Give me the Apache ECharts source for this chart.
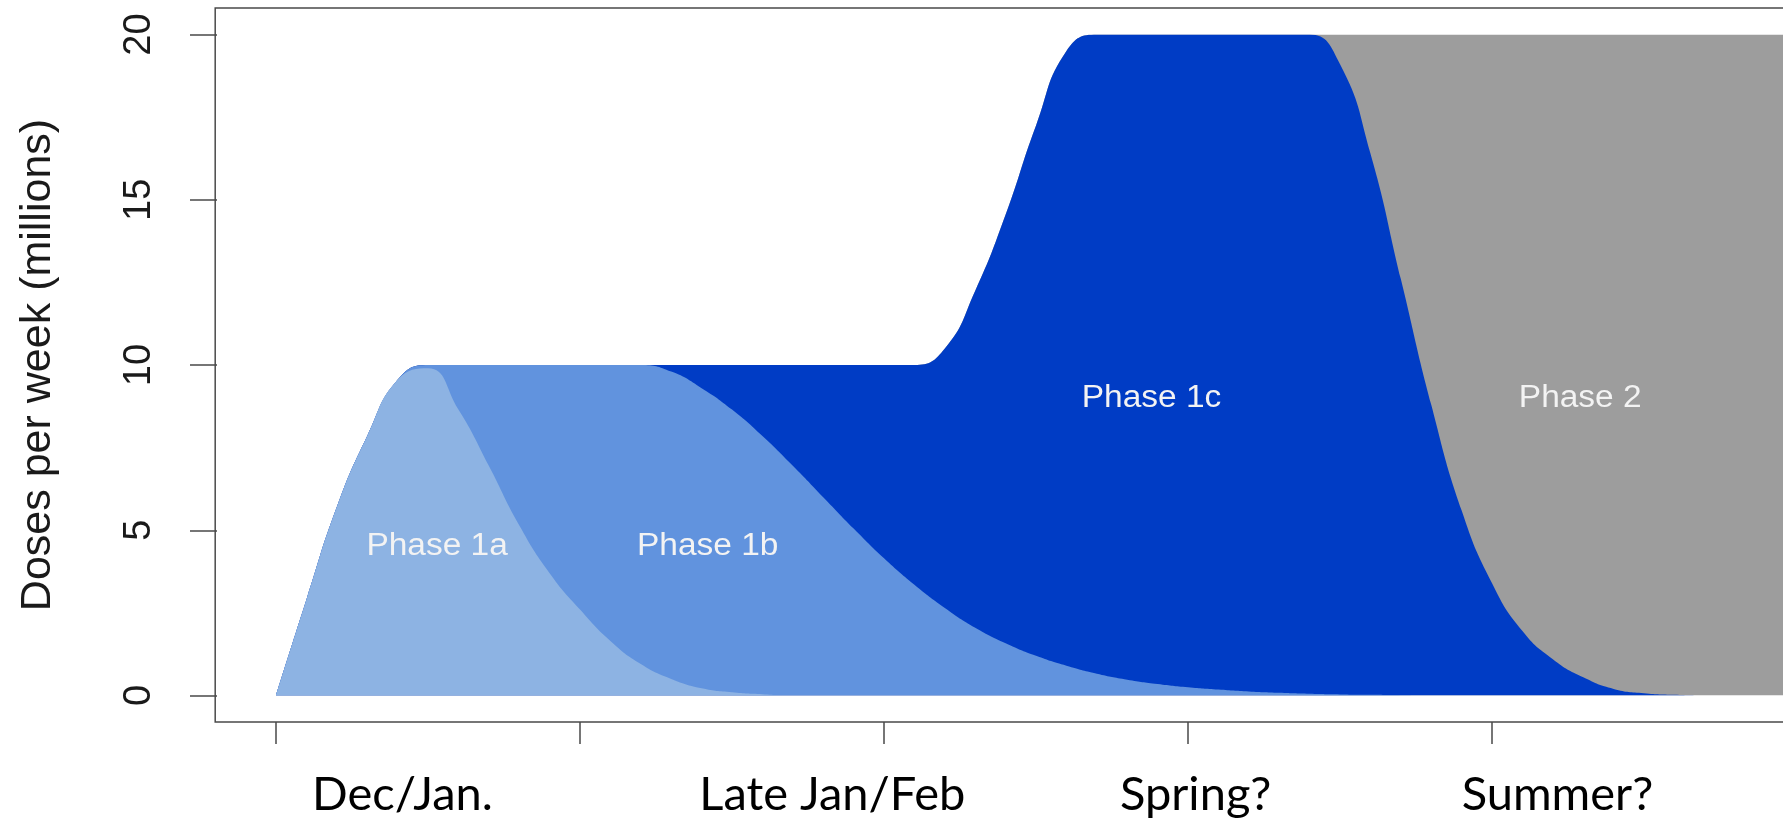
<!DOCTYPE html>
<html>
<head>
<meta charset="utf-8">
<title>Doses per week</title>
<script src="https://cdn.jsdelivr.net/npm/echarts@6/dist/echarts.min.js"></script>
<style>
  html, body { margin: 0; padding: 0; background: #fff; overflow: hidden; }
  #main { width: 1783px; height: 821px; }
</style>
</head>
<body>
<div id="main"></div>
<script>
// x = time index (ticks every 10), values = doses per week (millions) for each phase
const weeks = [0, 1, 2, 3, 4, 5, 6, 7, 8, 9, 10, 11, 12, 13, 14, 15, 16, 17, 18, 19, 20,
  21, 22, 23, 24, 25, 26, 27, 28, 29, 30, 31, 32, 33, 34, 35, 36, 37, 38, 39, 40,
  41, 42, 43, 44, 45, 46, 47, 48, 49, 50];

const phase1a = [0, 2.9, 5.7, 7.85, 9.55, 9.9, 8.65, 6.95, 5.15, 3.7, 2.6,
  1.65, 0.95, 0.5, 0.22, 0.1, 0.04, 0, 0, 0, 0,
  0, 0, 0, 0, 0, 0, 0, 0, 0, 0,
  0, 0, 0, 0, 0, 0, 0, 0, 0, 0,
  0, 0, 0, 0, 0, 0, 0, 0, 0, 0];

const phase1b = [0, 0, 0, 0, 0, 0.1, 1.35, 3.05, 4.85, 6.3, 7.4,
  8.35, 9.05, 9.3, 9.08, 8.55, 7.81, 6.95, 6.0, 5.05, 4.15,
  3.35, 2.65, 2.05, 1.58, 1.2, 0.9, 0.66, 0.48, 0.35, 0.25,
  0.18, 0.12, 0.08, 0.05, 0.03, 0.02, 0.01, 0, 0, 0,
  0, 0, 0, 0, 0, 0, 0, 0, 0, 0];

const phase1c = [0, 0, 0, 0, 0, 0, 0, 0, 0, 0, 0,
  0, 0, 0.2, 0.7, 1.35, 2.15, 3.05, 4.0, 4.95, 5.85,
  6.65, 7.85, 10.2, 12.97, 16.05, 18.6, 19.34, 19.52, 19.65, 19.75,
  19.82, 19.88, 19.92, 19.95, 19.07, 16.38, 12.59, 8.8, 5.6, 3.4,
  1.95, 1.1, 0.55, 0.2, 0.07, 0.02, 0, 0, 0, 0];

const phase2 = [0, 0, 0, 0, 0, 0, 0, 0, 0, 0, 0,
  0, 0, 0, 0, 0, 0, 0, 0, 0, 0,
  0, 0, 0, 0, 0, 0, 0, 0, 0, 0,
  0, 0, 0, 0, 0.9, 3.6, 7.4, 11.2, 14.4, 16.6,
  18.05, 18.9, 19.45, 19.8, 19.93, 19.98, 20, 20, 20, 20];

const xTicks = [0, 10, 20, 30, 40];
const yTicks = [0, 5, 10, 15, 20];

const phaseNames = ["Phase 1a", "Phase 1b", "Phase 1c", "Phase 2"];
const periodLabels = ["Dec/Jan.", "Late Jan/Feb", "Spring?", "Summer?"];

const phaseColors = ["#8db3e3", "#6193de", "#003cc5", "#9d9d9d"];
const axisColor = "#4a4a4a";

const chart = echarts.init(document.getElementById("main"));

// stacked tops: each phase sits on top of the ones before it
const layers = [phase1a, phase1b, phase1c, phase2];
const stackedTops = layers.map((_, k) =>
  weeks.map((w, i) => {
    let sum = 0;
    for (let j = 0; j <= k; j++) sum += layers[j][i];
    return [w, +sum.toFixed(3)];
  })
);

// draw the outermost layer first so the lower phases end up on top
const series = [];
for (let k = layers.length - 1; k >= 0; k--) {
  series.push({
    name: phaseNames[k],
    type: "line",
    smooth: 0.5,
    symbol: "none",
    lineStyle: { width: 0 },
    itemStyle: { color: phaseColors[k] },
    areaStyle: { color: phaseColors[k], opacity: 1 },
    data: stackedTops[k],
  });
}

const option = {
  backgroundColor: "#fff",
  animation: false,
  grid: {
    left: 276,
    right: 0,
    top: 34.5,
    bottom: 125.5,
  },
  xAxis: {
    type: "value",
    min: 0,
    max: 49.57, // the picture is cropped just short of the last point
    offset: 26.4,
    axisLine: { show: false, onZero: false },
    axisTick: {
      show: true,
      length: 22,
      customValues: xTicks,
      lineStyle: { color: axisColor, width: 1.5 },
    },
    axisLabel: { show: false },
    splitLine: { show: false },
  },
  yAxis: {
    type: "value",
    min: 0,
    max: 20,
    offset: 59,
    name: "Doses per week (millions)",
    nameLocation: "middle",
    nameRotate: 90,
    nameGap: 157,
    nameTextStyle: { fontFamily: "Liberation Sans", fontSize: 43, color: "#1a1a1a" },
    axisLine: { show: false, onZero: false },
    axisTick: {
      show: true,
      length: 27,
      customValues: yTicks,
      lineStyle: { color: axisColor, width: 1.5 },
    },
    axisLabel: {
      customValues: yTicks,
      rotate: 90,
      margin: 58,
      fontFamily: "Liberation Sans",
      fontSize: 38,
      color: "#1a1a1a",
    },
    splitLine: { show: false },
  },
  series: series,
};

chart.setOption(option);

// frame, phase names and period captions placed through the chart's own scales
function drawOverlay() {
  const toPx = (pt) => chart.convertToPixel({ gridIndex: 0 }, pt);
  const lo = toPx([-2, -0.8]);
  const hi = toPx([52, 20.8]);

  const phaseAt = [[5.3, 4.5], [14.2, 4.5], [28.8, 9], [42.9, 9]];
  const periodAt = [4.16, 18.3, 30.25, 42.15];

  const graphics = [
    {
      type: "rect",
      silent: true,
      shape: { x: lo[0], y: hi[1], width: hi[0] - lo[0], height: lo[1] - hi[1] },
      style: { fill: null, stroke: axisColor, lineWidth: 1.5 },
      z: 10,
    },
  ];

  phaseNames.forEach((name, i) => {
    const p = toPx(phaseAt[i]);
    graphics.push({
      type: "text",
      x: p[0],
      y: p[1],
      scaleX: 1.08,
      z: 20,
      style: {
        text: name,
        align: "center",
        verticalAlign: "middle",
        fill: "#f3f3f3",
        font: "31px 'Liberation Sans'",
      },
    });
  });

  periodLabels.forEach((name, i) => {
    const p = toPx([periodAt[i], 0]);
    graphics.push({
      type: "text",
      x: p[0],
      y: 795,
      z: 20,
      style: {
        text: name,
        align: "center",
        verticalAlign: "middle",
        fill: "#000",
        font: "47px Lato",
      },
    });
  });

  chart.setOption({ graphic: graphics });
}

drawOverlay();
</script>
</body>
</html>
